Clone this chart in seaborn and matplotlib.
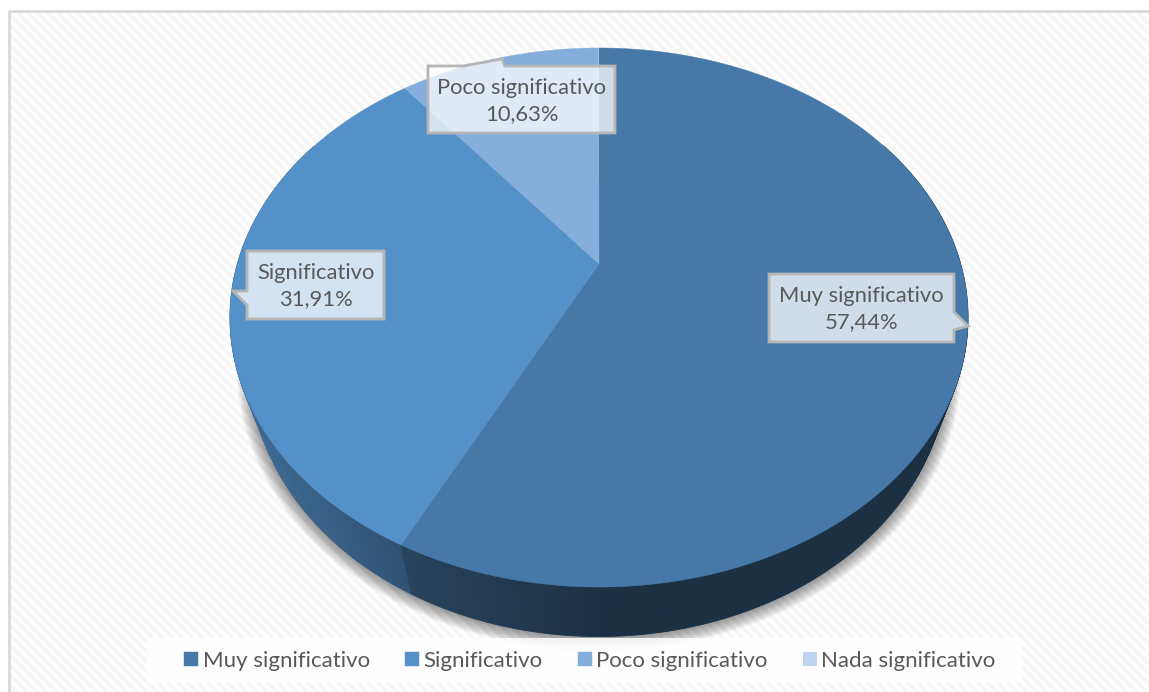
import numpy as np
import matplotlib
matplotlib.use('Agg')
import matplotlib.pyplot as plt
import seaborn as sns

names = ['Muy significativo', 'Significativo', 'Poco significativo', 'Nada significativo']
values = [57.44, 31.91, 10.63, 0.02]
hex_colors = ['#4679A8', '#5591C9', '#85AEDD', '#BDD3F0']

sns.set_theme(style='white')
plt.rcParams['font.family'] = ['Lato', 'DejaVu Sans']
palette = sns.color_palette(hex_colors)

# pie geometry in pixels, circle seen in perspective
cx, apex_y = 599, 264
A, B, k = 258.9, 361.7, 0.1985
wall_h, wall_sx = 49.5, 0.944
text_col = '#595959'


def rim(deg):
    # deg runs clockwise from 12 o'clock
    t = np.radians(deg)
    u, v = np.sin(t), np.cos(t)
    d = 1 + k * v
    return cx + B * u / d, apex_y - A * v / d


def wall_rim(deg):
    x, y = rim(deg)
    return cx + (x - cx) * wall_sx, y + wall_h


fig = plt.figure(figsize=(11.49, 6.92), dpi=100)
ax = fig.add_axes([0, 0, 1, 1])

# background with faint diagonal stripes
X, Y = np.meshgrid(np.arange(8, 1149), np.arange(10, 692))
stripes = 250 + 5 * np.cos(2 * np.pi * (X - Y) / 10)
ax.imshow(stripes, cmap='gray', vmin=0, vmax=255, extent=(8, 1149, 692, 10),
          aspect='auto', interpolation='nearest', zorder=0)
ax.plot([9, 9, 1149], [692, 11, 11], color='#d9d9d9', lw=2, zorder=1, solid_joinstyle='miter')

# soft shadow under the pie
th = np.linspace(0, 2 * np.pi, 300)
for i in range(1, 15):
    ax.fill(cx + (348.5 + i) * np.cos(th), 367 + 1 + (269 + i) * np.sin(th),
            color='black', alpha=0.032, lw=0, zorder=2)

edges = np.cumsum([0] + values) / sum(values) * 360

# side wall, darker to the right
deg = np.linspace(60, 300, 481)
for a, b in zip(deg[:-1], deg[1:]):
    x1, y1 = rim(a)
    x2, y2 = rim(b)
    x3, y3 = wall_rim(b)
    x4, y4 = wall_rim(a)
    mid = (a + b) / 2
    i = np.searchsorted(edges, mid) - 1
    f = np.interp((x3 + x4) / 2, [280, 400, 420, 600], [0.72, 0.58, 0.55, 0.40])
    col = tuple(c * f for c in palette[i])
    ax.fill([x1, x2, x3, x4], [y1, y2, y3, y4], color=col, lw=0.6, zorder=3)

# slices
for i in range(len(values)):
    t = np.linspace(edges[i], edges[i + 1], 400)
    x, y = rim(t)
    ax.fill(np.r_[cx, x], np.r_[apex_y, y], facecolor=palette[i], edgecolor=palette[i],
            lw=0.3 if values[i] > 1 else 0, label=names[i], zorder=4)

# callouts
boxes = [
    [(769, 274), (954, 274), (954, 312), (968, 326), (954, 330), (954, 342), (769, 342)],
    [(247, 251), (384, 251), (384, 319), (247, 319), (247, 305), (233, 291), (247, 291)],
    [(428, 66), (463, 66), (502, 59), (505, 66), (615, 66), (615, 133), (428, 133)],
]
label_xy = [(861.5, 309), (315.5, 286), (521.5, 101)]
for i, box in enumerate(boxes):
    bx, by = zip(*box)
    ax.fill(bx, by, facecolor=(1, 1, 1, 0.75), edgecolor='#b5b5b5', lw=2, zorder=5)
    label = names[i] + '\n' + f'{values[i]:.2f}'.replace('.', ',') + '%'
    ax.text(label_xy[i][0], label_xy[i][1], label, ha='center', va='center', fontsize=15.8,
            color=text_col, linespacing=1.4, zorder=6)

# legend strip
ax.fill([147, 1022, 1022, 147], [638, 638, 683, 683], color='white', alpha=0.85, lw=0, zorder=7)
leg = ax.legend(loc='center', bbox_to_anchor=(590 / 1149, 1 - 661 / 692), ncol=4, frameon=False,
                fontsize=16, handlelength=0.62, handleheight=0.62, handletextpad=0.2,
                columnspacing=1.6, borderpad=0)
leg.set_zorder(8)
for t in leg.get_texts():
    t.set_color(text_col)

ax.set_xlim(0, 1149)
ax.set_ylim(692, 0)
ax.axis('off')
fig.savefig('out.png', dpi=100, facecolor='white')
